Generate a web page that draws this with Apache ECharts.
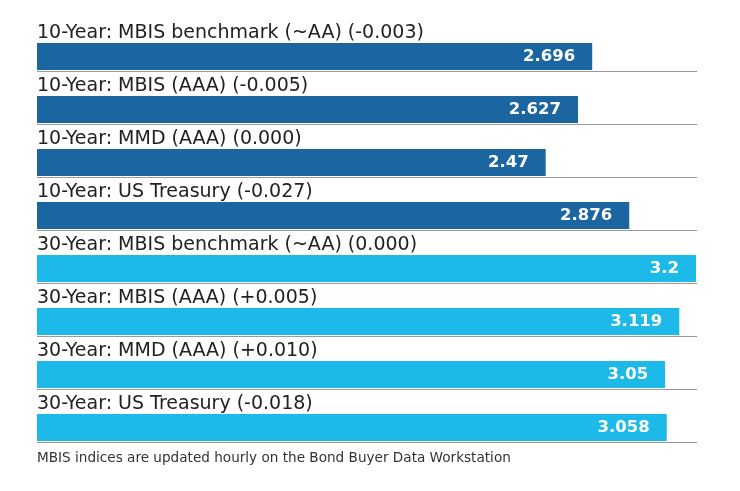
<!DOCTYPE html>
<html><head><meta charset="utf-8">
<script src="https://cdn.jsdelivr.net/npm/echarts@6/dist/echarts.min.js"></script>
<style>html,body{margin:0;padding:0;background:#fff}#c{width:740px;height:491px}</style>
</head><body><div id="c"></div>
<script>
const categories = [
  "10-Year: MBIS benchmark (~AA) (-0.003)",
  "10-Year: MBIS (AAA) (-0.005)",
  "10-Year: MMD (AAA) (0.000)",
  "10-Year: US Treasury (-0.027)",
  "30-Year: MBIS benchmark (~AA) (0.000)",
  "30-Year: MBIS (AAA) (+0.005)",
  "30-Year: MMD (AAA) (+0.010)",
  "30-Year: US Treasury (-0.018)"
];
const values = [2.696, 2.627, 2.47, 2.876, 3.2, 3.119, 3.05, 3.058];
const valueLabels = ["2.696", "2.627", "2.47", "2.876", "3.2", "3.119", "3.05", "3.058"];
const footnote = "MBIS indices are updated hourly on the Bond Buyer Data Workstation";

const DARK = '#1b65a0', LIGHT = '#1db9e8';
const chart = echarts.init(document.getElementById('c'));
chart.setOption({
  animation: false,
  grid: { left: 37, right: 44, top: 30, height: 424 },
  xAxis: { type: 'value', min: 0, max: 3.2, show: false },
  yAxis: { type: 'category', data: categories, inverse: true, show: false },
  graphic: [{ type: 'text', left: 37, top: 451, style: { text: footnote, font: '13.6px "DejaVu Sans"', fill: '#333' } }],
  series: [
    {
      type: 'custom', z: 1,
      renderItem: function (params, api) {
        const a = api.coord([0, api.value(0)]);
        const b = api.coord([3.2, api.value(0)]);
        const y = Math.round(a[1] + 14.5) + 0.5;
        return { type: 'line', shape: { x1: a[0], y1: y, x2: b[0] + 1, y2: y }, style: { stroke: '#9a9a9a', lineWidth: 1 } };
      },
      data: categories.map((c, i) => [i])
    },
    {
      type: 'bar', z: 3, barWidth: 27, barGap: '-100%',
      data: values.map((v, i) => ({ value: v, itemStyle: { color: i < 4 ? DARK : LIGHT } })),
      label: {
        show: true, position: 'insideRight', distance: 17,
        formatter: p => valueLabels[p.dataIndex],
        color: '#fff', fontFamily: 'DejaVu Sans', fontWeight: 'bold', fontSize: 16.5
      }
    },
    {
      type: 'bar', z: 4, barWidth: 27, barGap: '-100%',
      data: values,
      itemStyle: { color: 'rgba(0,0,0,0)' },
      label: {
        show: true, position: [0, -10], align: 'left', verticalAlign: 'middle',
        formatter: p => categories[p.dataIndex],
        color: '#222', fontFamily: 'DejaVu Sans', fontSize: 19
      }
    }
  ]
});
</script></body></html>
